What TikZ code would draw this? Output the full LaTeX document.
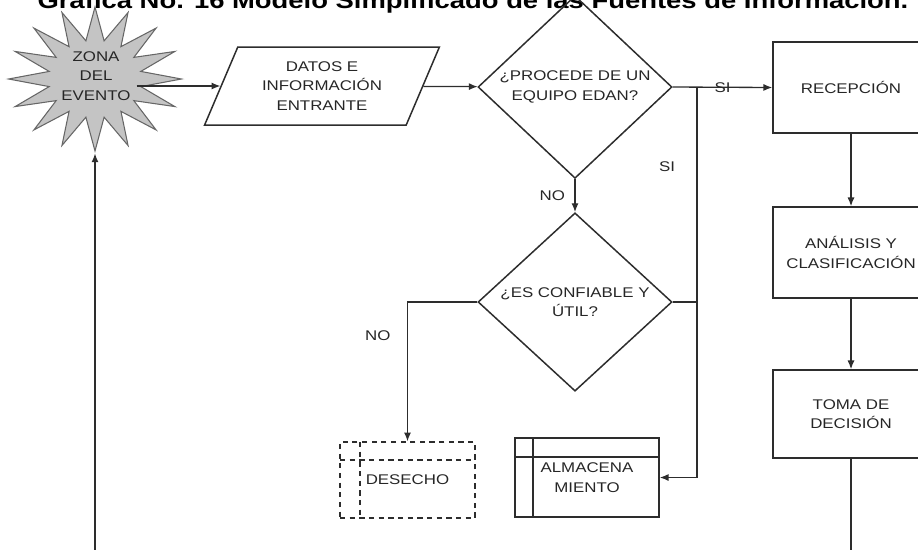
\documentclass[tikz,border=0pt]{standalone}
\usepackage{fontspec}
\setmainfont[FakeStretch=1.2]{Liberation Sans}
\usetikzlibrary{shapes.geometric, arrows.meta, positioning}
\definecolor{linegray}{RGB}{45,45,45}
\definecolor{stargray}{RGB}{196,196,196}
\newlength{\px}
\setlength{\px}{0.02cm}

\begin{document}
\begin{tikzpicture}[x=0.02cm, y=-0.02cm, font=\fontsize{8}{11}\selectfont, text=black!85,
    flow/.style={draw=linegray, line width=0.75pt, -{Latex[length=5pt,width=4pt]}},
    wire/.style={draw=linegray, line width=0.75pt},
    zona/.style={star, star points=16, star point ratio=1.85, minimum size=144\px, draw=black!60, line width=0.6pt, fill=stargray, inner sep=0pt},
    entrada/.style={trapezium, trapezium left angle=64, trapezium right angle=116, trapezium stretches=true, draw=linegray, line width=0.85pt, minimum width=235\px, minimum height=78\px, inner sep=0pt, align=center},
    decision/.style={diamond, draw=linegray, line width=0.85pt, minimum width=194\px, minimum height=155\px, inner sep=0pt, align=center},
    box/.style={rectangle, draw=linegray, line width=0.85pt, minimum width=156\px, minimum height=91\px, align=center},
    desecho/.style={rectangle, draw=linegray, line width=0.75pt, dash pattern=on 3pt off 2.5pt, minimum width=135\px, minimum height=76\px,
      path picture={
        \draw[linegray, line width=0.75pt, dash pattern=on 3pt off 2.5pt] ([xshift=20\px]path picture bounding box.north west) -- ([xshift=20\px]path picture bounding box.south west);
        \draw[linegray, line width=0.75pt, dash pattern=on 3pt off 2.5pt] ([yshift=-18\px]path picture bounding box.north west) -- ([yshift=-18\px]path picture bounding box.north east);
      }},
    almacen/.style={rectangle, draw=linegray, line width=0.85pt, minimum width=144\px, minimum height=79\px, align=center,
      path picture={
        \draw[linegray, line width=0.85pt] ([xshift=18\px]path picture bounding box.north west) -- ([xshift=18\px]path picture bounding box.south west);
        \draw[linegray, line width=0.85pt] ([yshift=-19\px]path picture bounding box.north west) -- ([yshift=-19\px]path picture bounding box.north east);
      }}]
  \useasboundingbox (0,0) rectangle (918,549);
  \clip (0,0) rectangle (918,549);

  % title, cut off at the top
  \node[anchor=base, text=black, font=\fontsize{13}{15}\selectfont\bfseries] (title) at (473,8) {Gráfica No. 16 Modelo Simplificado de las Fuentes de Información.};

  % star, stretched sideways
  \begin{scope}[shift={(95,79)}, xscale=1.2]
    \node[zona, transform shape] (zona) at (0,0) {};
  \end{scope}
  \node[align=center] (zonatxt) at (96,76) {ZONA\\DEL\\EVENTO};

  \node[entrada] (datos) at (322,86) {DATOS E\\INFORMACIÓN\\ENTRANTE};
  \node[decision] (q1) at (575,87) {¿PROCEDE DE UN\\EQUIPO EDAN?};
  \node[decision] (q2) at (575,302) {¿ES CONFIABLE Y\\ÚTIL?};
  \node[box] (recep) at (851,87.5) {RECEPCIÓN};
  \node[box] (anal) at (851,252.5) {ANÁLISIS Y\\CLASIFICACIÓN};
  \node[box, minimum height=88\px] (toma) at (851,414) {TOMA DE\\DECISIÓN};
  \node[desecho] (des) at (407.5,480) {DESECHO};
  \node[almacen] (alm) at (587,477.5) {ALMACENA\\MIENTO};

  \coordinate (jn) at (697,87);
  \coordinate (bot) at (470,600);

  \draw[flow] (zonatxt.east |- datos.west) -- (datos.west);
  \draw[flow] (datos) -- (q1);
  \draw[flow] (q1.east) -- node{SI} (recep.west);
  \draw[flow] (jn) |- (alm.east);
  \node (si) at (667,167) {SI};
  \draw[flow] (q1.south) -- node[left=2pt]{NO} (q2.north);
  \draw[wire] (q2.east) -- (q2.east -| jn);
  \draw[flow] (q2.west) -| node[pos=0.62, left=6pt]{NO} (des.north);
  \draw[flow] (recep) -- (anal);
  \draw[flow] (anal) -- (toma);
  \draw[flow] (toma.south) |- (bot) -| (zona);
\end{tikzpicture}
\end{document}
